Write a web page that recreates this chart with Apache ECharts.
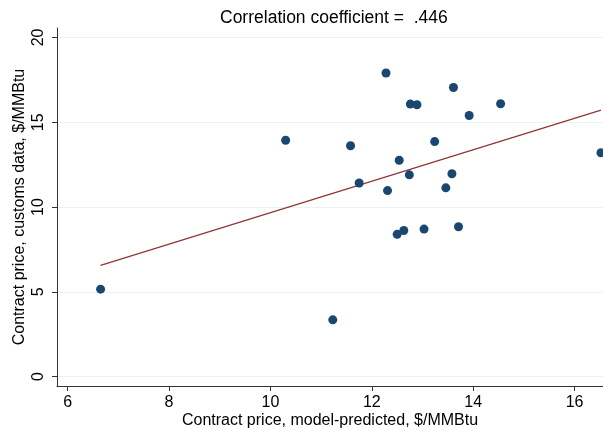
<!DOCTYPE html>
<html>
<head>
<meta charset="utf-8">
<script src="https://cdn.jsdelivr.net/npm/echarts@6/dist/echarts.min.js"></script>
<style>html,body{margin:0;padding:0;background:#fff}#c{width:603px;height:431px}</style>
</head>
<body>
<div id="c"></div>
<script>
var titleText = 'Correlation coefficient =  .446';
var xName = 'Contract price, model-predicted, $/MMBtu';
var yName = 'Contract price, customs data, $/MMBtu';
var xTicks = [6, 8, 10, 12, 14, 16];
var yTicks = [0, 5, 10, 15, 20];
var modelPrice = [12.28, 13.61, 12.76, 12.89, 14.54, 13.92, 11.58, 13.24, 12.54, 16.52, 11.75,
                  12.74, 13.58, 12.31, 13.46, 12.50, 12.63, 13.03, 13.71, 6.65, 10.30, 11.23];
var customsPrice = [17.90, 17.05, 16.07, 16.03, 16.09, 15.40, 13.61, 13.86, 12.76, 13.20, 11.42,
                    11.90, 11.96, 10.97, 11.13, 8.39, 8.62, 8.70, 8.84, 5.16, 13.94, 3.35];

var pts = modelPrice.map(function (x, i) { return [x, customsPrice[i]]; });
// OLS fit computed from the data
var n = pts.length, mx = 0, my = 0;
pts.forEach(function (p) { mx += p[0]; my += p[1]; });
mx /= n; my /= n;
var sxy = 0, sxx = 0;
pts.forEach(function (p) { sxy += (p[0] - mx) * (p[1] - my); sxx += (p[0] - mx) * (p[0] - mx); });
var b = sxy / sxx, a = my - b * mx;
var xmin = Math.min.apply(null, modelPrice), xmax = Math.max.apply(null, modelPrice);
var fit = [[xmin, a + b * xmin], [xmax, a + b * xmax]];

var chart = echarts.init(document.getElementById('c'), null, {renderer: 'canvas'});
var font = 'Arial, "Liberation Sans", Helvetica, sans-serif';
chart.setOption({
  animation: false,
  backgroundColor: '#ffffff',
  title: {
    text: titleText, left: 215, top: 4,
    textStyle: {fontFamily: font, fontSize: 17.5, fontWeight: 'normal', color: '#000'}
  },
  grid: {left: 57, right: 0, top: 28, bottom: 45, containLabel: false, outerBoundsMode: 'none'},
  xAxis: {
    type: 'value', min: 5.79, max: 16.56,
    name: xName, nameLocation: 'middle', nameGap: 27, nameMoveOverlap: false,
    nameTextStyle: {fontFamily: font, fontSize: 16, color: '#000'},
    axisLine: {show: true, onZero: false, lineStyle: {color: '#333', width: 1}},
    axisTick: {show: true, length: 5, lineStyle: {color: '#333'},
      customValues: xTicks},
    axisLabel: {fontFamily: font, fontSize: 16, color: '#000', margin: 9,
      customValues: xTicks, showMinLabel: true, showMaxLabel: true},
    splitLine: {show: false}
  },
  yAxis: {
    type: 'value', min: -0.55, max: 20.555,
    name: yName, nameLocation: 'middle', nameGap: 29, nameRotate: 90, nameMoveOverlap: false,
    nameTextStyle: {fontFamily: font, fontSize: 16, color: '#000'},
    axisLine: {show: true, onZero: false, lineStyle: {color: '#333', width: 1}},
    axisTick: {show: true, length: 5, lineStyle: {color: '#333'}, customValues: yTicks},
    axisLabel: {fontFamily: font, fontSize: 16, color: '#000', rotate: 90, margin: 10,
      customValues: yTicks},
    splitLine: {show: false}
  },
  series: [
    {
      type: 'line', silent: true, symbol: 'none', z: 0,
      data: [],
      markLine: {
        silent: true, symbol: 'none', label: {show: false}, z: 0,
        lineStyle: {color: '#eaf2f3', width: 1, type: 'solid'},
        data: yTicks.map(function (v) { return {yAxis: v}; })
      }
    },
    {
      type: 'line', data: fit, symbol: 'none', z: 2,
      lineStyle: {color: '#90353b', width: 1.3}
    },
    {
      type: 'scatter', data: pts, symbol: 'circle', symbolSize: 9, z: 3,
      itemStyle: {color: '#1a476f', opacity: 1}
    }
  ]
});
</script>
</body>
</html>
